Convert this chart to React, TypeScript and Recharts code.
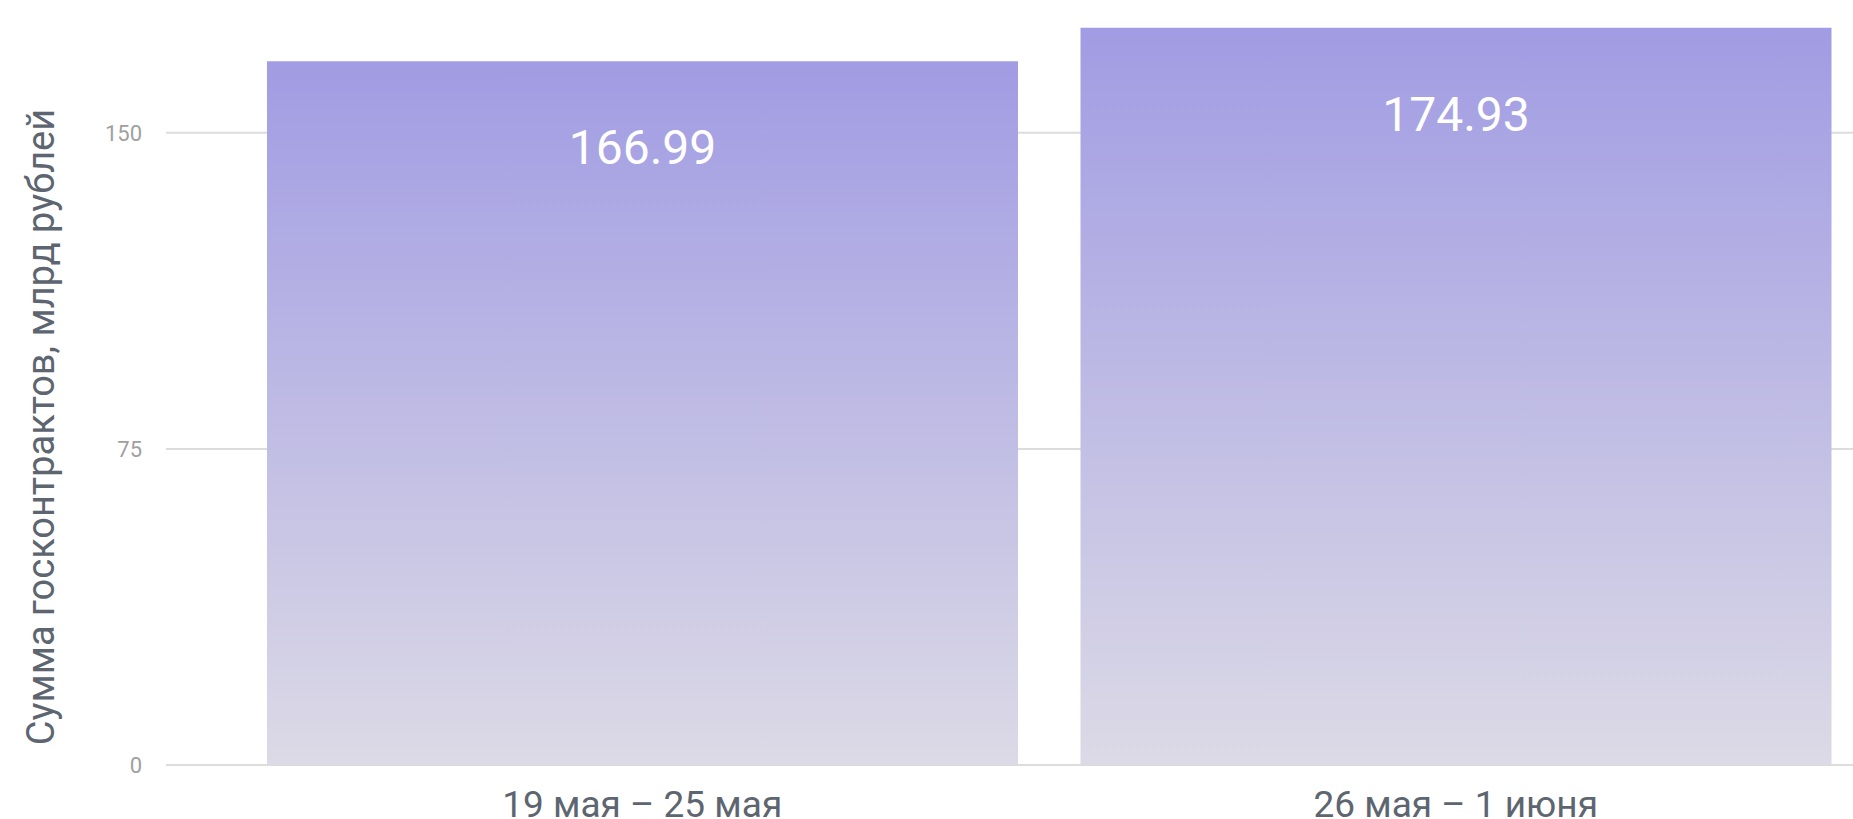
import React from "react";
import { BarChart, Bar, XAxis, YAxis, CartesianGrid, LabelList } from "recharts";

const categories: string[] = ["19 мая – 25 мая", "26 мая – 1 июня"];
const values: number[] = [166.99, 174.93];
const yTicks: number[] = [0, 75, 150];
const yLabel = "Сумма госконтрактов, млрд рублей";

const data = categories.map((c, i) => ({ name: c, value: values[i] }));

const FONT = "Roboto, 'Noto Sans', sans-serif";

export default function App() {
  return (
    <div
      style={{
        position: "absolute",
        left: 0,
        top: 0,
        width: 1853,
        height: 819,
        overflow: "hidden",
        background: "#ffffff",
      }}
    >
      <div style={{ position: "absolute", left: 0, top: -100 }}>
        <BarChart
          width={1900}
          height={919}
          data={data}
          margin={{ top: 22, right: 0, bottom: 0, left: 0 }}
          barCategoryGap={31.5}
          style={{ fontFamily: FONT }}
        >
          <defs>
            <linearGradient id="barGrad" x1="0" y1="0" x2="0" y2="1">
              <stop offset="0%" stopColor="#a19ce3" />
              <stop offset="100%" stopColor="#dcdae6" />
            </linearGradient>
          </defs>
          <CartesianGrid vertical={false} stroke="#dcdcdc" strokeWidth={2} />
          <XAxis
            dataKey="name"
            type="category"
            axisLine={false}
            tickLine={false}
            tickSize={0}
            tickMargin={26}
            height={54}
            padding={{ left: 69.5, right: 37.5 }}
            interval={0}
            tick={{ fill: "#5d6670", fontSize: 37, fontFamily: FONT }}
          />
          <YAxis
            type="number"
            domain={[0, 200]}
            ticks={yTicks}
            axisLine={false}
            tickLine={false}
            tickSize={0}
            tickMargin={24}
            width={166}
            tick={{ fill: "#a0a0a0", fontSize: 22, fontFamily: FONT }}
            label={{
              value: yLabel,
              content: () => (
                <text
                  x={41}
                  y={527}
                  transform="rotate(-90, 41, 527)"
                  textAnchor="middle"
                  dominantBaseline="central"
                  fill="#5d6670"
                  fontSize={38}
                  fontFamily={FONT}
                >
                  {yLabel}
                </text>
              ),
            }}
          />
          <Bar dataKey="value" fill="url(#barGrad)" isAnimationActive={false}>
            <LabelList
              dataKey="value"
              position="insideTop"
              offset={69}
              fill="#ffffff"
              fontSize={48}
              fontFamily={FONT}
              formatter={(v: any) => Number(v).toFixed(2)}
            />
          </Bar>
        </BarChart>
      </div>
    </div>
  );
}
